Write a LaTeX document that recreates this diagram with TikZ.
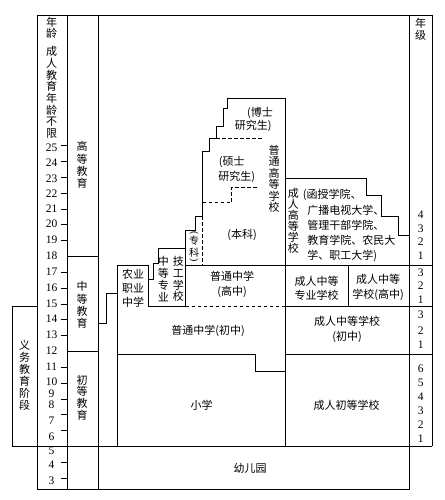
\documentclass[tikz,border=0pt]{standalone}
\usepackage{fontspec}
\setmainfont{Liberation Serif}
\newfontfamily\cjk{Noto Sans CJK SC}
\begin{document}
\begin{tikzpicture}[x=1pt,y=-1pt, line width=0.8pt,
  dl/.style={dash pattern=on 3.5pt off 2.5pt},
  zh/.style={font=\cjk\fontsize{11}{#1}\selectfont, inner sep=0pt, align=center},
  zh/.default=14,
  vt/.style={font=\cjk\fontsize{11}{#1}\selectfont, inner sep=0pt, align=center},
  zl/.style={font=\cjk\fontsize{11}{14}\selectfont, inner sep=0pt, anchor=west},
  num/.style={font=\fontsize{11.5}{12}\selectfont, inner sep=0pt}]
\useasboundingbox (0,0) rectangle (444,500);
% frame
\draw (37,15) -- (432,15);
\draw (37,15) -- (37,489.5) -- (409.5,489.5) -- (409.5,15);
\draw (67,15) -- (67,489.5);
\draw (98,15) -- (98,489.5);
\draw (432,15) -- (432,446);
\draw (12,446) -- (432,446);
\draw (37,306) -- (12,306) -- (12,446);
\draw (67,256) -- (98,256);
\draw (67,351.5) -- (98,351.5);
% ticks
\foreach \a in {25,24,23,22,21,20,19,17,16,15,14,13,11,10,9,8,7,5,4}
  \draw (61,{145.7+(25-\a)*15.83}) -- (67,{145.7+(25-\a)*15.83});
% ages
\foreach \a/\y in {25/147.7,24/163,23/179,22/193.5,21/209,20/224,19/240,18/256,17/272,16/288,15/303.5,14/319,13/335,12/351,11/367,10/382,9/394,8/405,7/421,6/437,5/451,4/465,3/481}
  \node[num] (age\a) at (51.5,\y) {\a};
% grades
\foreach \g/\y [count=\i] in {4/215,3/228.3,2/241.7,1/256,3/272.7,2/286,1/299.3,3/315,2/330.7,1/345,6/369,5/382.7,4/396.7,3/410.7,2/425,1/438.3}
  \node[num] (gr\i) at (420.7,\y) {\g};
% main structure
\draw (98,323) -- (106.5,323) -- (106.5,293) -- (117.5,293);
\draw (117.5,446) -- (117.5,265) -- (148.3,265) -- (148.3,306) -- (185.7,306);
\draw (148.3,279.3) -- (153.3,279.3) -- (153.3,263) -- (158.3,263) -- (158.3,248.8) -- (185.7,248.8);
\draw (185.7,306) -- (185.7,230) -- (195,230) -- (195,216) -- (202.7,216) -- (202.7,151.7)
  -- (209.3,151.7) -- (209.3,138.3) -- (216,138.3) -- (216,126) -- (223.3,126) -- (223.3,108.3)
  -- (227.7,108.3) -- (227.7,98.3) -- (285.5,98.3) -- (285.5,446);
\draw (185.7,265) -- (432,265);
\draw (285.5,178) -- (366,178) -- (366,195) -- (381.7,195) -- (381.7,216.7) -- (398.3,216.7) -- (398.3,235) -- (409.5,235);
\draw (348.3,265) -- (348.3,306);
\draw (285.5,306) -- (432,306);
\draw[dl] (185.7,306) -- (285.5,306);
\draw (117.5,354) -- (255.7,354) -- (255.7,371) -- (285.5,371);
\draw (285.5,354) -- (432,354);
\draw[dl] (216,138.3) -- (261.7,138.3);
\draw[dl] (202.7,202.7) -- (231.7,202.7) -- (231.7,187.3) -- (258.3,187.3);
\draw[dl] (202.7,216) -- (202.7,265);
% texts left
\node[vt=10.7] (nl) at (51.7,28) {年\\龄};
\node[vt=11.7] (cr) at (51.7,92.5) {成\\人\\教\\育\\年\\龄\\不\\限};
\node[vt=12.2] (gd) at (82,165) {高\\等\\教\\育};
\node[vt=12.2] (zd) at (82,305) {中\\等\\教\\育};
\node[vt=11.7] (cd) at (82,397.5) {初\\等\\教\\育};
\node[vt=12] (yw) at (24.5,375) {义\\务\\教\\育\\阶\\段};
\node[vt=12] (nj) at (420.7,29) {年\\级};
% texts main
\node[zh=14] (ny) at (133,288) {农业\\职业\\中学};
\node[vt=11.7] (zz) at (163.3,279) {中\\等\\专\\业};
\node[vt=11.7] (jg) at (178.3,279) {技\\工\\学\\校};
\node[font=\fontsize{10}{10}\selectfont, inner sep=0pt, rotate=-90] (zk1) at (194,233.5) {(};
\node[vt=11, font=\cjk\fontsize{10}{10}\selectfont] (zk2) at (194,241) {专};
\node[vt=11, font=\cjk\fontsize{10}{10}\selectfont] (zk3) at (194,252.5) {科};
\node[font=\fontsize{10}{10}\selectfont, inner sep=0pt, rotate=-90] (zk4) at (194,260) {)};
\node[zh=15] (gz) at (232,284.5) {普通中学\\(高中)};
\node[zh] (bk) at (242,235) {(本科)};
\node[zh] (ss1) at (231.7,161.7) {(硕士};
\node[zh] (ss2) at (236.7,177.3) {研究生)};
\node[zh] (bs1) at (260,112.5) {(博士};
\node[zh] (bs2) at (253.3,126) {研究生)};
\node[vt=11.5] (pg) at (274,179) {普\\通\\高\\等\\学\\校};
\node[vt=11] (cg) at (293.3,221) {成\\人\\高\\等\\学\\校};
\node[zl] (cl1) at (302.5,195) {(函授学院、};
\node[zl] (cl2) at (307,210.5) {广播电视大学、};
\node[zl] (cl3) at (307,225.5) {管理干部学院、};
\node[zl] (cl4) at (307,240.5) {教育学院、农民大};
\node[zl] (cl5) at (307,255.5) {学、职工大学)};
\node[zh=14] (czz) at (316.5,288) {成人中等\\专业学校};
\node[zh=15] (czg) at (378,287) {成人中等\\学校(高中)};
\node[zh] (pc) at (208,331) {普通中学(初中)};
\node[zh=15] (czc) at (347,329) {成人中等学校\\(初中)};
\node[zh] (xx) at (201.7,405) {小学};
\node[zh] (cc) at (346.7,405) {成人初等学校};
\node[zh] (yey) at (250,468) {幼儿园};
\end{tikzpicture}
\end{document}
